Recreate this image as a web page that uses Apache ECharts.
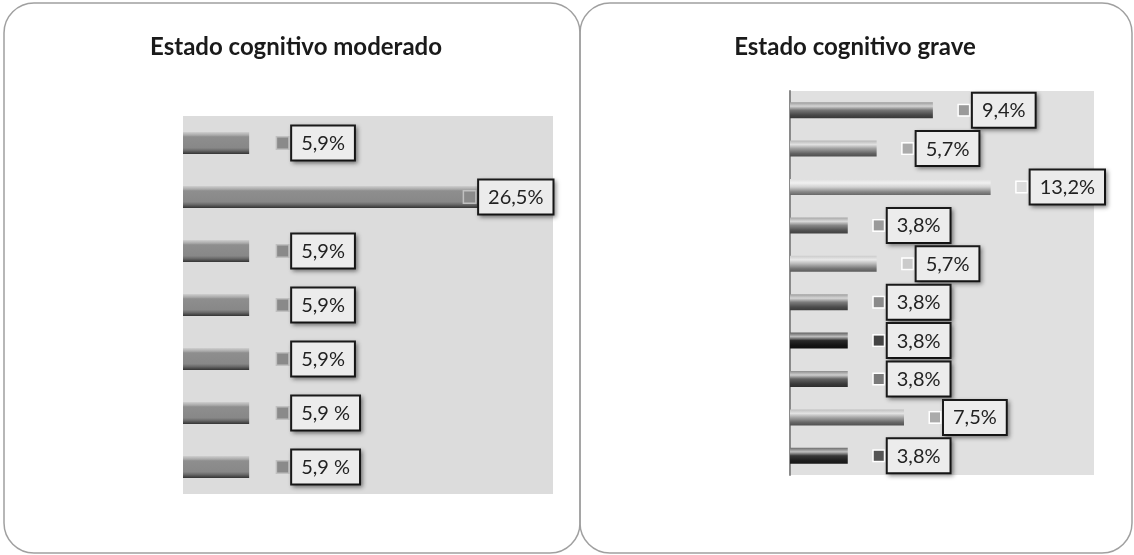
<!DOCTYPE html>
<html>
<head>
<meta charset="utf-8">
<script src="https://cdn.jsdelivr.net/npm/echarts@6/dist/echarts.min.js"></script>
<style>html,body{margin:0;padding:0;background:#fff}#c{width:1134px;height:555px}</style>
</head>
<body>
<div id="c"></div>
<script>
// ---- data ----
const leftTitle = 'Estado cognitivo moderado';
const rightTitle = 'Estado cognitivo grave';
const leftCategories = ['A1','A2','A3','A4','A5','A6','A7'];
const leftValues = [5.9, 26.5, 5.9, 5.9, 5.9, 5.9, 5.9];
const leftLabels = ['5,9%','26,5%','5,9%','5,9%','5,9%','5,9 %','5,9 %'];
const rightCategories = ['B1','B2','B3','B4','B5','B6','B7','B8','B9','B10'];
const rightValues = [9.4, 5.7, 13.2, 3.8, 5.7, 3.8, 3.8, 3.8, 7.5, 3.8];
const rightLabels = ['9,4%','5,7%','13,2%','3,8%','5,7%','3,8%','3,8%','3,8%','7,5%','3,8%'];

// ---- styles ----
const rightBase = ['#6e6e6e','#9a9a9a','#d0d0d0','#808080','#b4b4b4','#757575','#1e1e1e','#5a5a5a','#a2a2a2','#2e2e2e'];
const rightSquare = ['#9a9a9a','#ababab','#dcdcdc','#9a9a9a','#cbcbcb','#8a8a8a','#444444','#7a7a7a','#ababab','#555555'];

function shade(hex, f) {
  const n = parseInt(hex.slice(1), 16);
  let r = (n >> 16) & 255, g = (n >> 8) & 255, b = n & 255;
  const t = f < 0 ? 0 : 255, p = Math.abs(f);
  r = Math.round((t - r) * p + r); g = Math.round((t - g) * p + g); b = Math.round((t - b) * p + b);
  return 'rgb(' + r + ',' + g + ',' + b + ')';
}
function cyl(hex) {
  return new echarts.graphic.LinearGradient(0, 0, 0, 1, [
    {offset: 0, color: shade(hex, 0.3)},
    {offset: 0.25, color: shade(hex, 0.7)},
    {offset: 0.5, color: shade(hex, 0.05)},
    {offset: 0.8, color: shade(hex, -0.35)},
    {offset: 1, color: shade(hex, -0.5)}
  ]);
}
const leftBarColor = new echarts.graphic.LinearGradient(0, 0, 0, 1, [
  {offset: 0, color: '#cfcfcf'},
  {offset: 0.15, color: '#a8a8a8'},
  {offset: 0.22, color: '#8e8e8e'},
  {offset: 0.72, color: '#888888'},
  {offset: 0.84, color: '#6a6a6a'},
  {offset: 1, color: '#333333'}
]);

function rich(sqColor, sqBorder, sqSize, gap) {
  return {
    sq: {width: sqSize, height: sqSize, backgroundColor: sqColor, borderColor: sqBorder, borderWidth: 1.5, verticalAlign: 'middle'},
    gap: {width: gap},
    box: {
      fontFamily: 'Lato', fontSize: 20, color: '#222',
      padding: [7, 9, 6, 9],
      backgroundColor: '#ececec', borderColor: '#1a1a1a', borderWidth: 2,
      shadowColor: 'rgba(0,0,0,0.35)', shadowBlur: 4, shadowOffsetX: 2, shadowOffsetY: 2,
      verticalAlign: 'middle'
    }
  };
}

const chart = echarts.init(document.getElementById('c'), null, {renderer: 'canvas'});

const leftData = leftValues.map((v, i) => ({
  value: v,
  label: {
    show: true, position: 'right', distance: v > 20 ? -16 : 28,
    formatter: '{sq|}{gap|}{box|' + leftLabels[i] + '}',
    rich: rich('#8a8a8a', '#c0c0c0', 11, 4)
  }
}));
const rightData = rightValues.map((v, i) => ({
  value: v,
  itemStyle: {color: cyl(rightBase[i])},
  label: {
    show: true, position: 'right', distance: 26,
    formatter: '{sq|}{gap|}{box|' + rightLabels[i] + '}',
    rich: rich(rightSquare[i], '#ffffff', 10, 4)
  }
}));

const option = {
  animation: false,
  backgroundColor: '#fff',
  title: [
    {text: leftTitle, left: 291, top: 30, textAlign: 'center',
     textStyle: {fontFamily: 'Lato', fontWeight: 'bold', fontSize: 24, color: '#1a1a1a'}},
    {text: rightTitle, left: 850, top: 30, textAlign: 'center',
     textStyle: {fontFamily: 'Lato', fontWeight: 'bold', fontSize: 24, color: '#1a1a1a'}}
  ],
  graphic: [
    {type: 'rect', shape: {x: 4, y: 3, width: 576, height: 550, r: 30},
     style: {fill: 'none', stroke: '#a0a0a0', lineWidth: 1.5}, z: 0},
    {type: 'rect', shape: {x: 580, y: 3, width: 552, height: 550, r: 30},
     style: {fill: 'none', stroke: '#a0a0a0', lineWidth: 1.5}, z: 0}
  ],
  grid: [
    {left: 183, top: 116, width: 370, height: 378, show: true, backgroundColor: '#dcdcdc', borderWidth: 0},
    {left: 790, top: 91, width: 304, height: 384, show: true, backgroundColor: '#e0e0e0', borderWidth: 0}
  ],
  xAxis: [
    {gridIndex: 0, type: 'value', min: 0, max: 33, show: false},
    {gridIndex: 1, type: 'value', min: 0, max: 20, show: false}
  ],
  yAxis: [
    {gridIndex: 0, type: 'category', data: leftCategories, inverse: true,
     axisLine: {show: false}, axisTick: {show: false}, axisLabel: {show: false}},
    {gridIndex: 1, type: 'category', data: rightCategories, inverse: true,
     axisLine: {show: true, lineStyle: {color: '#8a8a8a', width: 2}}, axisTick: {show: false}, axisLabel: {show: false}}
  ],
  series: [
    {type: 'bar', xAxisIndex: 0, yAxisIndex: 0, data: leftData, barWidth: 22,
     itemStyle: {color: leftBarColor}},
    {type: 'bar', xAxisIndex: 1, yAxisIndex: 1, data: rightData, barWidth: 16}
  ]
};
chart.setOption(option);
</script>
</body>
</html>
